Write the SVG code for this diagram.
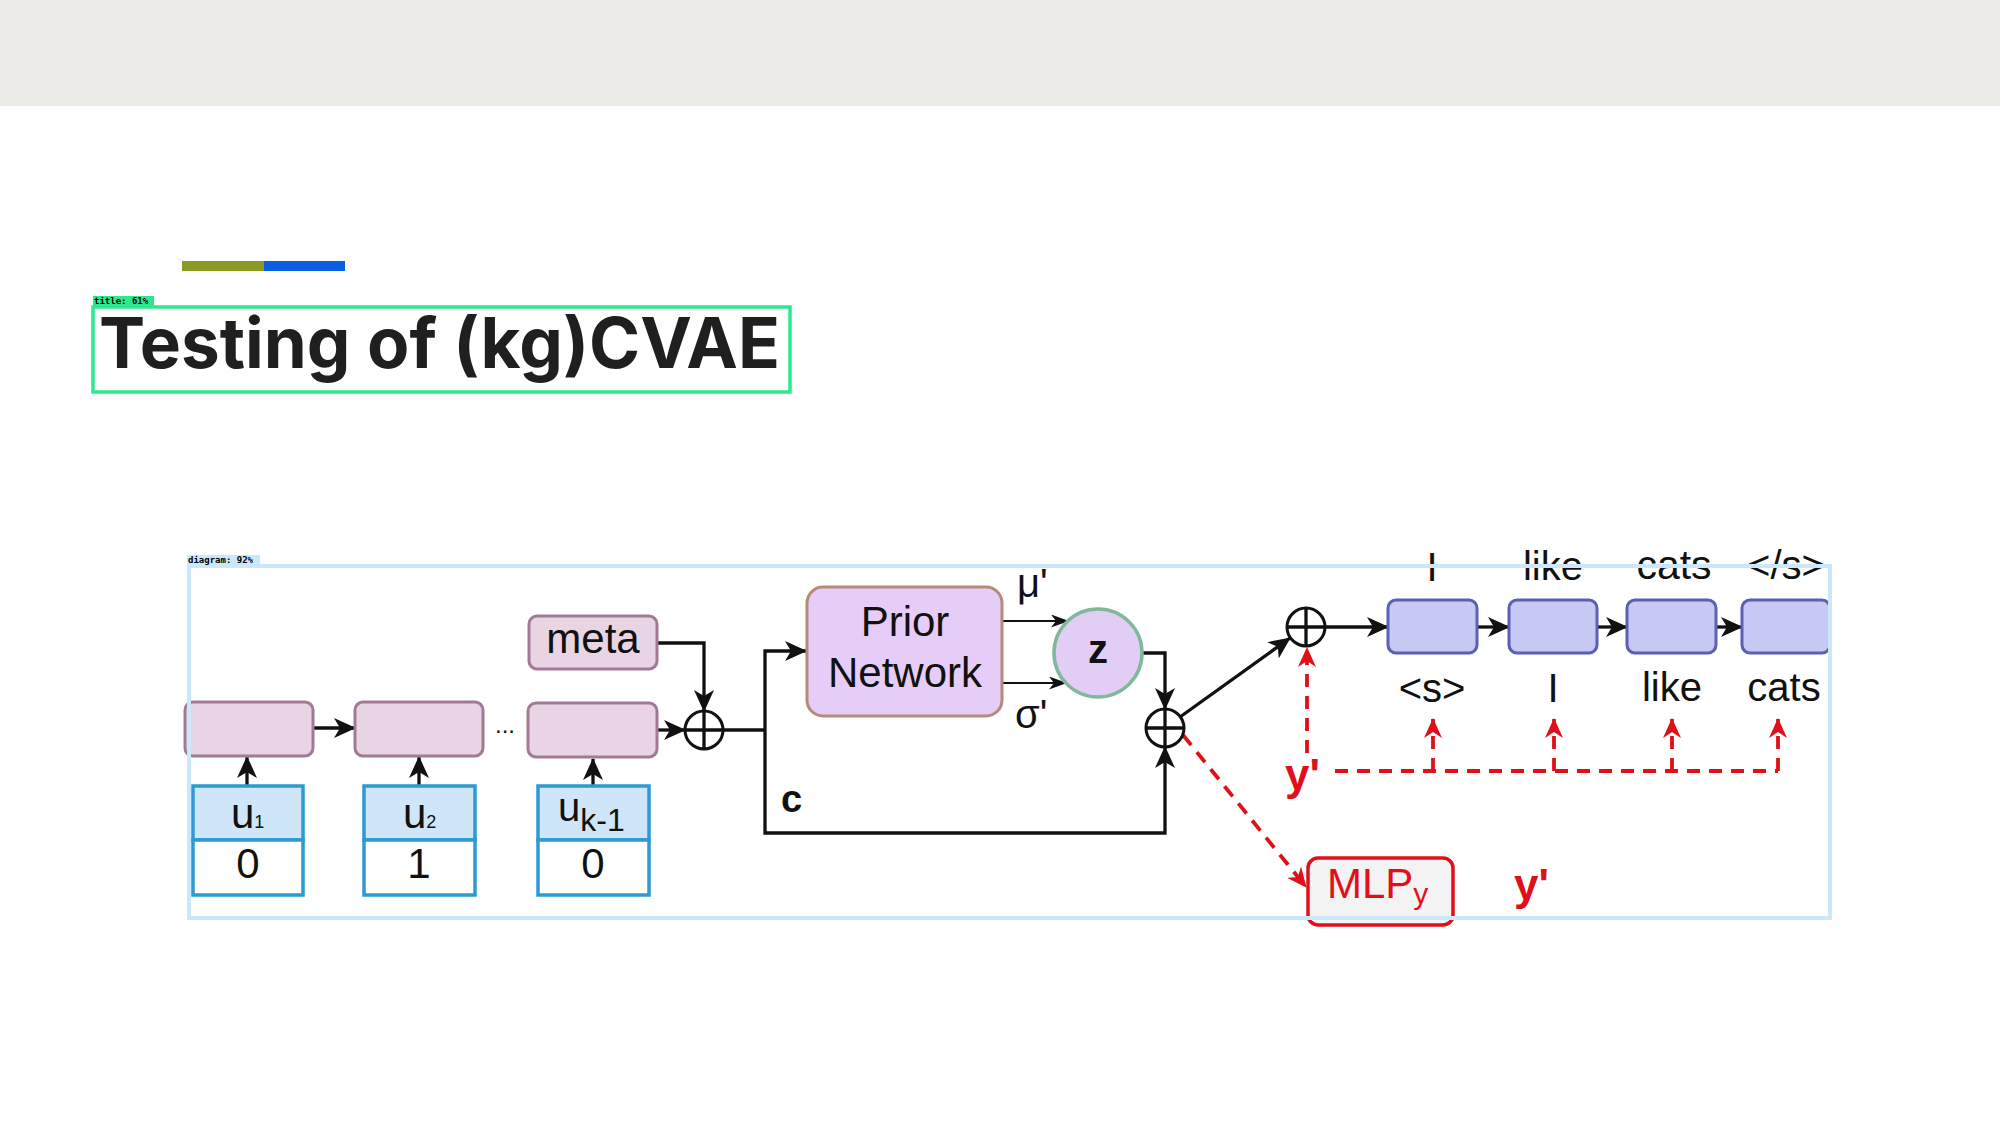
<svg xmlns="http://www.w3.org/2000/svg" width="2000" height="1125" viewBox="0 0 2000 1125">
<defs>
<style>
.t{font-family:"Liberation Sans",Arial,sans-serif;fill:#111;}
.c{text-anchor:middle;}
.pink{fill:#e8d4e2;stroke:#a17a98;stroke-width:3;}
.blu{fill:#c7c9f5;stroke:#5b5fb5;stroke-width:3;}
.ub{stroke:#2d9bd2;stroke-width:3.5;}
.ln{fill:none;stroke:#111;stroke-width:3.3;}
.thin{fill:none;stroke:#111;stroke-width:2;}
.rd{fill:none;stroke:#e0101a;stroke-width:3.8;stroke-dasharray:13 9;}
.plus{fill:#fff;stroke:#111;stroke-width:3;}
.red{fill:#e0101a;}
.lab{font-family:"DejaVu Sans Mono","Liberation Mono",monospace;font-weight:bold;font-size:9px;fill:#000;}
</style>
<marker id="ah" markerUnits="userSpaceOnUse" viewBox="0 0 22 20" markerWidth="22" markerHeight="20" refX="21" refY="10" orient="auto"><path d="M0,0 L22,10 L0,20 L6,10 Z" fill="#111"/></marker>
<marker id="ahs" markerUnits="userSpaceOnUse" viewBox="0 0 18 13" markerWidth="18" markerHeight="13" refX="17" refY="6.5" orient="auto"><path d="M0,0 L18,6.5 L0,13 L5,6.5 Z" fill="#111"/></marker>
<marker id="ahr" markerUnits="userSpaceOnUse" viewBox="0 0 20 18" markerWidth="20" markerHeight="18" refX="19" refY="9" orient="auto"><path d="M0,0 L20,9 L0,18 L6,9 Z" fill="#e0101a"/></marker>
</defs>
<rect x="0" y="0" width="2000" height="1125" fill="#fff"/>
<rect x="0" y="0" width="2000" height="106" fill="#edebe7"/>
<rect x="182" y="261" width="82" height="10" fill="#8a9a22"/>
<rect x="264" y="261" width="81" height="10" fill="#0a5fe0"/>
<text x="99" y="368" font-family="Inter,'Open Sans',sans-serif" font-weight="700" font-size="70" fill="#1f1f1f" textLength="681" lengthAdjust="spacingAndGlyphs">Testing of (kg)CVAE</text>

<g id="connectors">
<path class="ln" d="M247,785 V757" marker-end="url(#ah)"/>
<path class="ln" d="M419,785 V757" marker-end="url(#ah)"/>
<path class="ln" d="M593,785 V759" marker-end="url(#ah)"/>
<path class="ln" d="M313,728 H355" marker-end="url(#ah)"/>
<path class="ln" d="M657,730 H685" marker-end="url(#ah)"/>
<path class="ln" d="M657,643 H704 V711" marker-end="url(#ah)"/>
<path class="ln" d="M723,730 H765"/>
<path class="ln" d="M765,730 V651 H806" marker-end="url(#ah)"/>
<path class="ln" d="M765,730 V833 H1165 V747" marker-end="url(#ah)"/>
<path class="thin" d="M1002,621 H1068" marker-end="url(#ahs)"/>
<path class="thin" d="M1002,683 H1066" marker-end="url(#ahs)"/>
<path class="ln" d="M1142,653 H1165 V709" marker-end="url(#ah)"/>
<path class="ln" d="M1180,717 L1290,638" marker-end="url(#ah)"/>
<path class="ln" d="M1325,627 H1388" marker-end="url(#ah)"/>
<path class="ln" d="M1477,627 H1509" marker-end="url(#ah)"/>
<path class="ln" d="M1597,627 H1627" marker-end="url(#ah)"/>
<path class="ln" d="M1716,627 H1742" marker-end="url(#ah)"/>
<path class="rd" d="M1307,753 V648" marker-end="url(#ahr)"/>
<path class="rd" d="M1335,771 H1778"/>
<path class="rd" d="M1433,771 V719" marker-end="url(#ahr)"/>
<path class="rd" d="M1554,771 V719" marker-end="url(#ahr)"/>
<path class="rd" d="M1672,771 V719" marker-end="url(#ahr)"/>
<path class="rd" d="M1778,771 V719" marker-end="url(#ahr)"/>
<path class="rd" d="M1183,735 L1306,887" marker-end="url(#ahr)"/>
</g>

<g id="enc1"><rect class="pink" x="185" y="702" width="128" height="54" rx="8"/></g>
<g id="enc2"><rect class="pink" x="355" y="702" width="128" height="54" rx="8"/></g>
<text class="t c" x="505" y="733" font-size="24" fill="#333">...</text>
<g id="enc3"><rect class="pink" x="528" y="703" width="129" height="54" rx="8"/></g>
<g id="meta"><rect class="pink" x="529" y="616" width="128" height="53" rx="8"/><text class="t c" x="593" y="653" font-size="42">meta</text></g>

<g id="u1"><rect x="193" y="786" width="110" height="54" fill="#cfe5f8" class="ub"/><rect x="193" y="840" width="110" height="55" fill="#fff" class="ub"/>
<text class="t" x="231" y="828" font-size="42">u<tspan font-size="18">1</tspan></text><text class="t c" x="248" y="878" font-size="42">0</text></g>
<g id="u2"><rect x="364" y="786" width="111" height="54" fill="#cfe5f8" class="ub"/><rect x="364" y="840" width="111" height="55" fill="#fff" class="ub"/>
<text class="t" x="403" y="828" font-size="42">u<tspan font-size="18">2</tspan></text><text class="t c" x="419" y="878" font-size="42">1</text></g>
<g id="uk"><rect x="538" y="786" width="111" height="54" fill="#cfe5f8" class="ub"/><rect x="538" y="840" width="111" height="55" fill="#fff" class="ub"/>
<text class="t" x="558" y="821" font-size="40">u<tspan font-size="32" dy="10">k-1</tspan></text><text class="t c" x="593" y="878" font-size="42">0</text></g>

<g id="plus1"><circle class="plus" cx="704" cy="730" r="19"/><path class="ln" d="M685,730 H723 M704,711 V749"/></g>

<g id="prior"><rect x="807" y="587" width="195" height="129" rx="16" fill="#e6cdf8" stroke="#b58a78" stroke-width="3"/>
<text class="t c" x="905" y="636" font-size="42">Prior</text><text class="t c" x="905" y="687" font-size="42">Network</text></g>
<text class="t" x="1017" y="597" font-size="40">μ'</text>
<text class="t" x="1015" y="728" font-size="40">σ'</text>
<text class="t" x="781" y="812" font-size="38" font-weight="bold">c</text>

<g id="z"><circle cx="1098" cy="653" r="44" fill="#e2cdf5" stroke="#7fb89a" stroke-width="3.5"/><text class="t c" x="1098" y="663" font-size="40" font-weight="bold">z</text></g>

<g id="plus2"><circle class="plus" cx="1165" cy="728" r="19"/><path class="ln" d="M1146,728 H1184 M1165,709 V747"/></g>
<g id="plus3"><circle class="plus" cx="1306" cy="627" r="19"/><path class="ln" d="M1287,627 H1325 M1306,608 V646"/></g>

<g id="dec1"><rect class="blu" x="1388" y="600" width="89" height="53" rx="8"/></g>
<g id="dec2"><rect class="blu" x="1509" y="600" width="88" height="53" rx="8"/></g>
<g id="dec3"><rect class="blu" x="1627" y="600" width="89" height="53" rx="8"/></g>
<g id="dec4"><rect class="blu" x="1742" y="600" width="88" height="53" rx="8"/></g>

<text class="t c" x="1432" y="581" font-size="40">I</text>
<text class="t c" x="1553" y="580" font-size="40">like</text>
<text class="t c" x="1674" y="579" font-size="41">cats</text>
<text class="t c" x="1786" y="579" font-size="40">&lt;/s&gt;</text>
<text class="t c" x="1432" y="702" font-size="40">&lt;s&gt;</text>
<text class="t c" x="1553" y="702" font-size="40">I</text>
<text class="t c" x="1672" y="701" font-size="40">like</text>
<text class="t c" x="1784" y="701" font-size="40">cats</text>

<text class="t red" x="1285" y="790" font-size="44" font-weight="bold">y'</text>
<g id="mlp"><rect x="1308" y="858" width="145" height="67" rx="10" fill="#f3f3f3" stroke="#e0101a" stroke-width="3.5"/>
<text class="t red" x="1327" y="898" font-size="42">MLP<tspan font-size="30" dy="6">y</tspan></text></g>
<text class="t red" x="1514" y="900" font-size="44" font-weight="bold">y'</text>

<g id="overlay">
<rect x="93" y="307" width="697" height="85" fill="none" stroke="#2ee88f" stroke-width="3.5"/>
<rect x="93" y="296" width="61" height="10" fill="#2ee88f"/>
<text class="lab" x="94" y="304">title: 61%</text>
<rect x="189" y="566" width="1641" height="352" fill="none" stroke="#cbe8fb" stroke-width="4"/>
<rect x="187" y="555" width="73" height="10" fill="#cbe8fb"/>
<text class="lab" x="188" y="563">diagram: 92%</text>
</g>
</svg>
